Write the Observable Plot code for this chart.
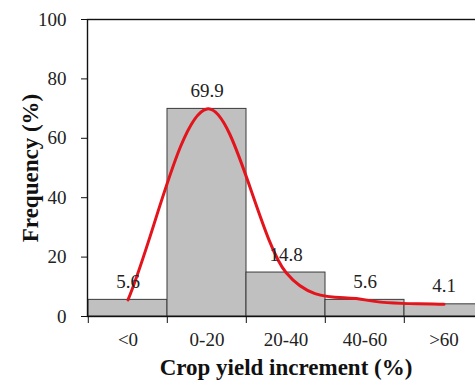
<!DOCTYPE html>
<html>
<head>
<meta charset="utf-8">
<script src="https://cdn.jsdelivr.net/npm/d3@7"></script>
<script src="https://cdn.jsdelivr.net/npm/@observablehq/plot@0.6"></script>
<style>
  html, body { margin: 0; padding: 0; background: #fff; overflow: hidden; }
  #chart { width: 475px; height: 385px; overflow: hidden; }
  #chart svg text { font-family: 'Liberation Serif', 'Times New Roman', serif !important; font-variant: normal !important; }
</style>
</head>
<body>
<div id="chart"></div>
<script>
const categories = ["<0", "0-20", "20-40", "40-60", ">60"];
const frequencies = [5.6, 69.9, 14.8, 5.6, 4.1];
const yTicks = [0, 20, 40, 60, 80, 100];
const xTitle = "Crop yield increment (%)";
const yTitle = "Frequency (%)";

const data = categories.map((c, i) => ({category: c, value: frequencies[i]}));

const W = 475, H = 385;
const mL = 87, mT = 19, mB = 69, mR = -9;
const bandwidth = (W - mR - mL) / categories.length;
const serif = "'Liberation Serif', 'Times New Roman', serif";

// Spreadsheet-style smoothed line: Catmull-Rom tangents inside, chord tangents at the ends.
function smoothCurve(context) {
  let pts = [];
  return {
    areaStart() {}, areaEnd() {},
    lineStart() { pts = []; },
    point(x, y) { pts.push([+x, +y]); },
    lineEnd() {
      const n = pts.length;
      if (!n) return;
      context.moveTo(pts[0][0], pts[0][1]);
      if (n === 1) return;
      const tan = (i) => {
        const a = pts[Math.max(0, i - 1)], b = pts[Math.min(n - 1, i + 1)];
        const f = (i === 0 || i === n - 1) ? 1 : 0.5;
        return [(b[0] - a[0]) * f, (b[1] - a[1]) * f];
      };
      for (let i = 0; i < n - 1; i++) {
        const p = pts[i], q = pts[i + 1], tp = tan(i), tq = tan(i + 1);
        context.bezierCurveTo(p[0] + tp[0] / 3, p[1] + tp[1] / 3, q[0] - tq[0] / 3, q[1] - tq[1] / 3, q[0], q[1]);
      }
    }
  };
}

const chart = Plot.plot({
  width: W,
  height: H,
  marginLeft: mL,
  marginTop: mT,
  marginBottom: mB,
  marginRight: mR,
  style: {fontFamily: serif, fontSize: "19px", color: "#222", background: "#fff", overflow: "visible"},
  x: {type: "band", domain: categories, paddingInner: 0, paddingOuter: 0},
  y: {domain: [0, 100]},
  marks: [
    Plot.barY(data, {x: "category", y: "value", fill: "#c0c0c0", stroke: "#3a3a3a", strokeWidth: 1, inset: 0}),
    Plot.line(data, {x: "category", y: "value", curve: smoothCurve, stroke: "#e3141c", strokeWidth: 3}),
    Plot.text(data, {x: "category", y: "value", text: d => d.value.toFixed(1), dy: -18, fontSize: 19, fill: "#222", fontFamily: serif}),
    Plot.frame({stroke: "#111", strokeWidth: 1.4}),
    Plot.axisY({ticks: yTicks, tickSize: 6, tickPadding: 15, fontSize: 19, label: null, stroke: "#111", fontFamily: serif}),
    Plot.axisX({tickSize: 7, text: null, dx: -bandwidth / 2, label: null, stroke: "#111"}),
    Plot.axisX({tickSize: 0, tickPadding: 16, fontSize: 19, label: null, fontFamily: serif}),
    Plot.text([xTitle], {frameAnchor: "bottom", dy: 51, text: d => d, fontWeight: "bold", fontSize: 23, fill: "#111", lineAnchor: "middle", textAnchor: "middle", fontFamily: serif}),
    Plot.text([yTitle], {frameAnchor: "left", dx: -57, rotate: -90, text: d => d, fontWeight: "bold", fontSize: 23, fill: "#111", lineAnchor: "middle", textAnchor: "middle", fontFamily: serif})
  ]
});
document.getElementById("chart").appendChild(chart);
</script>
</body>
</html>
